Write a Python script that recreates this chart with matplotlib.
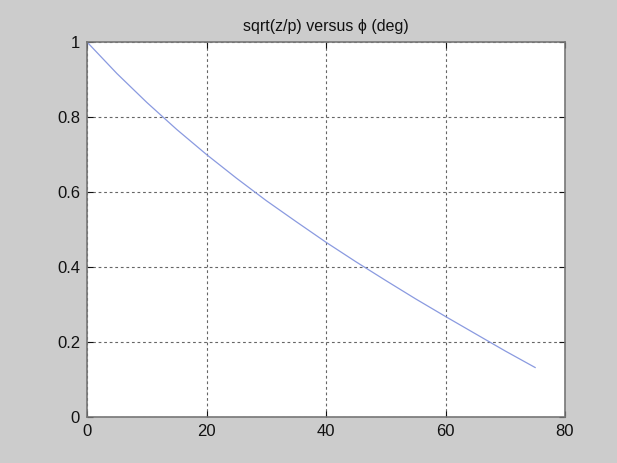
import matplotlib.pyplot as plt
import numpy as np

plt.rcParams['font.family'] = ['Liberation Sans', 'DejaVu Sans']

# Data
phi_deg = [0, 5, 10, 15, 20, 25, 30, 35, 40, 45, 50, 55, 60, 65, 70, 75]
ratio = [1.0, 0.916, 0.839, 0.767, 0.700, 0.637, 0.577, 0.521, 0.466,
         0.414, 0.364, 0.315, 0.268, 0.222, 0.176, 0.132]
xticks = [0, 20, 40, 60, 80]
yticks = [0, 0.2, 0.4, 0.6, 0.8, 1]
yticklabels = ["0", "0.2", "0.4", "0.6", "0.8", "1"]

fig = plt.figure(figsize=(6.17, 4.63), dpi=100, facecolor="#cccccc")
ax = fig.add_axes([87/617, 1 - 417/463, (565 - 87)/617, (417 - 42)/463])
ax.set_facecolor("white")

ax.plot(phi_deg, ratio, color="#8a9ae0", linewidth=0.9)

ax.set_xlim(0, 80)
ax.set_ylim(0, 1)
ax.set_xticks(xticks)
ax.set_yticks(yticks)
ax.set_yticklabels(yticklabels)
ax.grid(True, linestyle=(0, (2.5, 2.5)), color="#666666", linewidth=0.8)
ax.tick_params(direction="in", length=4, labelsize=12, colors="#111111",
               top=True, right=True, pad=5)
for s in ax.spines.values():
    s.set_color("#777777")
    s.set_linewidth(1.2)

ax.set_title("sqrt(z/p) versus ϕ (deg)", fontsize=11.5, color="#111111", pad=8)

fig.savefig("out.png", dpi=100, facecolor=fig.get_facecolor())
